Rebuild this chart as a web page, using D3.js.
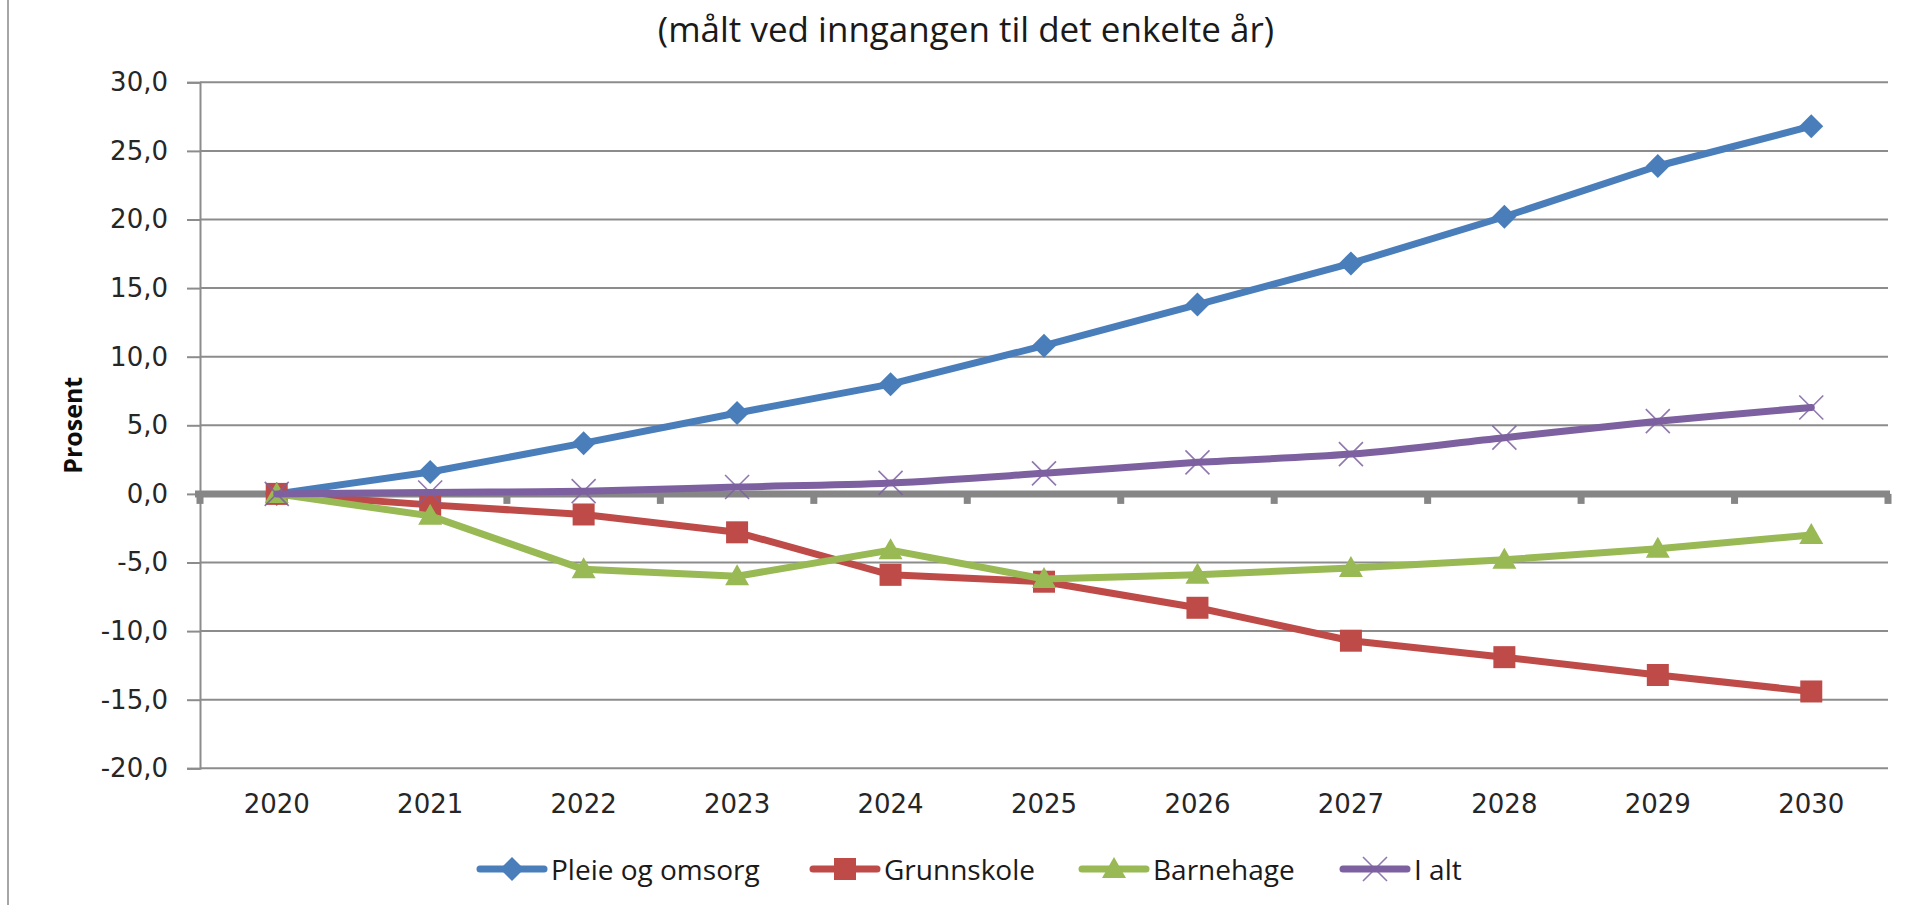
<!DOCTYPE html>
<html>
<head>
<meta charset="utf-8">
<script src="https://cdn.jsdelivr.net/npm/d3@7/dist/d3.min.js"></script>
<style>
  html, body { margin: 0; padding: 0; background: #ffffff; }
  svg { display: block; }
</style>
</head>
<body>
<svg id="chart" width="1921" height="905"></svg>
<script>
// ---- data ----
const years = ["2020","2021","2022","2023","2024","2025","2026","2027","2028","2029","2030"];
const pleieOgOmsorg = [0.0, 1.6, 3.7, 5.9, 8.0, 10.8, 13.8, 16.8, 20.2, 23.9, 26.8];
const grunnskole    = [0.0, -0.8, -1.5, -2.8, -5.9, -6.4, -8.3, -10.7, -11.9, -13.2, -14.4];
const barnehage     = [0.0, -1.6, -5.5, -6.0, -4.1, -6.2, -5.9, -5.4, -4.8, -4.0, -3.0];
const iAlt          = [0.0, 0.1, 0.2, 0.5, 0.8, 1.5, 2.3, 2.9, 4.1, 5.3, 6.3];
const seriesNames   = ["Pleie og omsorg", "Grunnskole", "Barnehage", "I alt"];
const yTicks        = [30, 25, 20, 15, 10, 5, 0, -5, -10, -15, -20];
const titleText     = "(målt ved inngangen til det enkelte år)";
const yAxisTitle    = "Prosent";

(function () {
// ---- layout ----
const svg = d3.select("#chart");
const pLeft = 200, pRight = 1888, pTop = 82.3, pBottom = 768.3;

const x = d3.scaleBand().domain(years).range([pLeft, pRight]).paddingInner(0).paddingOuter(0);
const y = d3.scaleLinear().domain([-20, 30]).range([pBottom, pTop]);
const cx = d => x(d) + x.bandwidth() / 2;

const series = [
  { name: seriesNames[0], values: pleieOgOmsorg, color: "#4a7ebb", marker: "diamond", curve: d3.curveLinear },
  { name: seriesNames[1], values: grunnskole,    color: "#be4b48", marker: "square",  curve: d3.curveLinear },
  { name: seriesNames[2], values: barnehage,     color: "#98b954", marker: "triangle", curve: d3.curveLinear },
  { name: seriesNames[3], values: iAlt,          color: "#7d60a0", marker: "x",       curve: d3.curveCatmullRom.alpha(0.5) }
];

// left frame edge
svg.append("line").attr("x1", 8).attr("x2", 8).attr("y1", 0).attr("y2", 905)
  .attr("stroke", "#a6a6a6").attr("stroke-width", 2);

// title
svg.append("text").attr("x", 966).attr("y", 28)
  .attr("text-anchor", "middle").attr("dominant-baseline", "central")
  .attr("font-family", "'Open Sans', sans-serif").attr("font-size", 35)
  .attr("fill", "#1a1a1a").text(titleText);

// gridlines
svg.append("g").selectAll("line").data(yTicks.filter(v => v !== 0)).join("line")
  .attr("x1", pLeft).attr("x2", pRight)
  .attr("y1", d => y(d)).attr("y2", d => y(d))
  .attr("stroke", "#8c8c8c").attr("stroke-width", 2);

// y axis
const yAxis = d3.axisLeft(y).tickValues(yTicks).tickSize(13).tickPadding(19)
  .tickFormat(d => d3.format(".1f")(d).replace(".", ",").replace("−", "-"));
const gy = svg.append("g").attr("transform", `translate(${pLeft},0)`).call(yAxis);
gy.select(".domain").attr("stroke", "#8c8c8c").attr("stroke-width", 2);
gy.selectAll(".tick line").attr("stroke", "#8c8c8c").attr("stroke-width", 2);
gy.selectAll(".tick text").attr("font-family", "'DejaVu Sans', sans-serif")
  .attr("font-size", 26).attr("fill", "#262626");

// y axis title
svg.append("text").attr("transform", `translate(72,${(pTop + pBottom) / 2}) rotate(-90)`)
  .attr("text-anchor", "middle").attr("dominant-baseline", "central")
  .attr("font-family", "'Open Sans', sans-serif").attr("font-weight", "bold")
  .attr("font-size", 25).attr("fill", "#0d0d0d").text(yAxisTitle);

// x labels (bottom)
const xAxis = d3.axisBottom(x).tickSize(0).tickPadding(26);
const gx = svg.append("g").attr("transform", `translate(0,${pBottom})`).call(xAxis);
gx.select(".domain").remove();
gx.selectAll(".tick text").attr("font-family", "'DejaVu Sans', sans-serif")
  .attr("font-size", 26).attr("fill", "#262626");

// zero axis line with tick marks at category boundaries
const y0 = y(0);
const boundaries = d3.range(years.length + 1).map(i => pLeft + i * x.step());
svg.append("g").selectAll("rect").data(boundaries).join("rect")
  .attr("x", d => d - 3.5).attr("y", y0).attr("width", 7).attr("height", 10)
  .attr("fill", "#868686");
svg.append("line").attr("x1", pLeft - 5).attr("x2", pRight + 2).attr("y1", y0).attr("y2", y0)
  .attr("stroke", "#868686").attr("stroke-width", 7);

// markers
function drawMarker(g, type, px, py, color) {
  if (type === "diamond") {
    g.append("path").attr("d", `M${px},${py - 12} L${px + 12},${py} L${px},${py + 12} L${px - 12},${py} Z`)
      .attr("fill", color);
  } else if (type === "square") {
    g.append("rect").attr("x", px - 11).attr("y", py - 11).attr("width", 22).attr("height", 22)
      .attr("fill", color);
  } else if (type === "triangle") {
    g.append("path").attr("d", `M${px},${py - 12} L${px + 12},${py + 9} L${px - 12},${py + 9} Z`)
      .attr("fill", color);
  } else if (type === "x") {
    g.append("path").attr("d", `M${px - 12},${py - 12} L${px + 12},${py + 12} M${px - 12},${py + 12} L${px + 12},${py - 12}`)
      .attr("stroke", color).attr("stroke-width", 1.6).attr("fill", "none").attr("opacity", 0.85);
  }
}

// series
series.forEach(s => {
  const g = svg.append("g");
  const line = d3.line().x((d, i) => cx(years[i])).y(d => y(d)).curve(s.curve);
  g.append("path").datum(s.values).attr("d", line)
    .attr("fill", "none").attr("stroke", s.color).attr("stroke-width", 7)
    .attr("stroke-linejoin", "round").attr("stroke-linecap", "round");
  s.values.forEach((v, i) => drawMarker(g, s.marker, cx(years[i]), y(v), s.color));
});

// legend
const legendY = 869;
const legendX = [477, 810, 1079, 1340];
const lg = svg.append("g");
series.forEach((s, i) => {
  const x0 = legendX[i], x1 = x0 + 70;
  lg.append("line").attr("x1", x0 + 3).attr("x2", x1 - 3).attr("y1", legendY).attr("y2", legendY)
    .attr("stroke", s.color).attr("stroke-width", 7).attr("stroke-linecap", "round");
  drawMarker(lg, s.marker, (x0 + x1) / 2, legendY, s.color);
  lg.append("text").attr("x", x1 + 4).attr("y", legendY).attr("dominant-baseline", "central")
    .attr("font-family", "'Open Sans', sans-serif").attr("font-size", 28)
    .attr("fill", "#1a1a1a").text(s.name);
});
})();
</script>
</body>
</html>
